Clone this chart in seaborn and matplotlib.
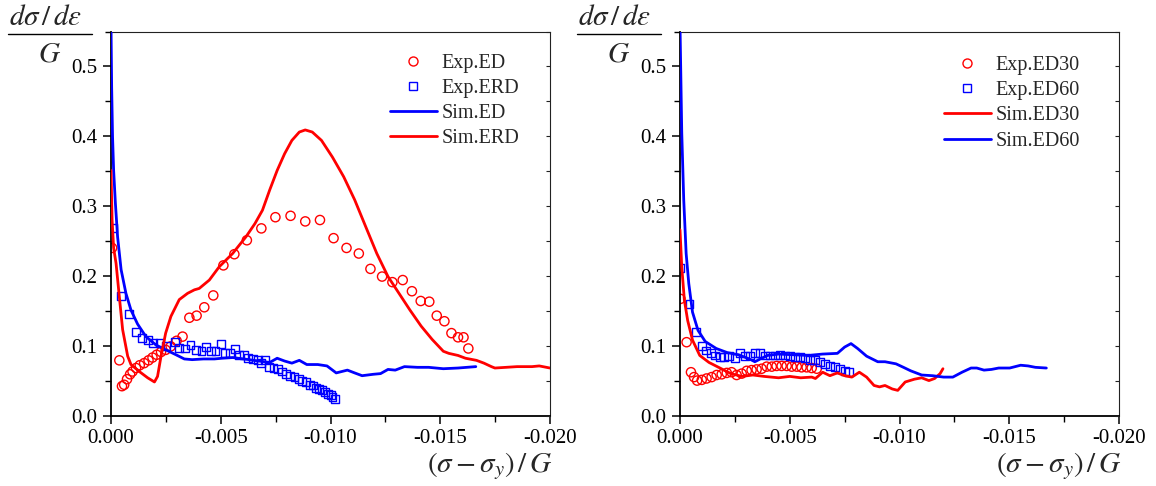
import matplotlib
matplotlib.use("Agg")
import matplotlib.pyplot as plt
from matplotlib.lines import Line2D
from matplotlib.ticker import MultipleLocator, FuncFormatter
import pandas as pd
import seaborn as sns

# ---------------- left panel: ED vs ERD ----------------
exp_ed_x = [-0.00005, -0.00038, -0.00050, -0.00060, -0.00073, -0.00087, -0.00098, -0.00114,
            -0.00131, -0.00151, -0.00171, -0.00189, -0.00208, -0.00228, -0.00249, -0.00272,
            -0.00299, -0.00326, -0.00357, -0.00390, -0.00425, -0.00466, -0.00512, -0.00562,
            -0.00619, -0.00685, -0.00749, -0.00818, -0.00885, -0.00952, -0.01014, -0.01073,
            -0.01129, -0.01182, -0.01235, -0.01282, -0.01329, -0.01371, -0.01411, -0.01450,
            -0.01484, -0.01519, -0.01551, -0.01581, -0.01606, -0.01628]
exp_ed_y = [0.240, 0.079, 0.042, 0.044, 0.052, 0.059, 0.063, 0.068, 0.072, 0.075, 0.079, 0.083,
            0.087, 0.091, 0.094, 0.099, 0.107, 0.113, 0.140, 0.143, 0.155, 0.172, 0.215, 0.231,
            0.251, 0.268, 0.284, 0.286, 0.278, 0.280, 0.254, 0.240, 0.232, 0.210, 0.199, 0.191,
            0.194, 0.178, 0.164, 0.163, 0.143, 0.135, 0.118, 0.112, 0.112, 0.096]

exp_erd_x = [-0.00008, -0.00047, -0.00082, -0.00114, -0.00140, -0.00168, -0.00193, -0.00222,
             -0.00252, -0.00293, -0.00311, -0.00336, -0.00362, -0.00387, -0.00412, -0.00434,
             -0.00454, -0.00476, -0.00500, -0.00521, -0.00543, -0.00564, -0.00585, -0.00606,
             -0.00626, -0.00648, -0.00668, -0.00685, -0.00703, -0.00720, -0.00740, -0.00760,
             -0.00779, -0.00799, -0.00816, -0.00836, -0.00855, -0.00871, -0.00888, -0.00905,
             -0.00922, -0.00935, -0.00949, -0.00962, -0.00976, -0.00989, -0.01001, -0.01009,
             -0.01019]
exp_erd_y = [0.268, 0.171, 0.145, 0.120, 0.111, 0.108, 0.104, 0.104, 0.099, 0.105, 0.097, 0.096,
             0.101, 0.094, 0.092, 0.098, 0.092, 0.092, 0.103, 0.090, 0.090, 0.095, 0.087, 0.087,
             0.082, 0.081, 0.079, 0.075, 0.080, 0.070, 0.068, 0.066, 0.063, 0.060, 0.057, 0.055,
             0.052, 0.049, 0.048, 0.044, 0.043, 0.040, 0.038, 0.036, 0.034, 0.031, 0.029, 0.027,
             0.024]

sim_ed_x = [0.0, -0.00003, -0.00007, -0.00012, -0.00020, -0.00030, -0.00046, -0.00068, -0.00091,
            -0.00121, -0.00159, -0.00205, -0.00250, -0.00296, -0.00334, -0.00370, -0.00421,
            -0.00471, -0.00505, -0.00555, -0.00606, -0.00673, -0.00723, -0.00757, -0.00791,
            -0.00824, -0.00858, -0.00892, -0.00942, -0.00984, -0.01026, -0.01077, -0.01110,
            -0.01144, -0.01194, -0.01228, -0.01262, -0.01295, -0.01337, -0.01396, -0.01447,
            -0.01514, -0.01581, -0.01662]
sim_ed_y = [0.56, 0.47, 0.40, 0.351, 0.304, 0.256, 0.209, 0.175, 0.151, 0.131, 0.113, 0.101,
            0.094, 0.087, 0.081, 0.080, 0.081, 0.081, 0.082, 0.083, 0.081, 0.078, 0.076, 0.082,
            0.078, 0.075, 0.079, 0.073, 0.073, 0.071, 0.061, 0.065, 0.061, 0.057, 0.059, 0.060,
            0.066, 0.065, 0.070, 0.069, 0.069, 0.067, 0.068, 0.070]

sim_erd_x = [0.0, -0.00005, -0.00012, -0.00023, -0.00038, -0.00053, -0.00076, -0.00091, -0.00129,
             -0.00167, -0.00198, -0.00212, -0.00228, -0.00249, -0.00273, -0.00311, -0.00349,
             -0.00380, -0.00402, -0.00448, -0.00493, -0.00554, -0.00615, -0.00656, -0.00690,
             -0.00723, -0.00757, -0.00791, -0.00824, -0.00858, -0.00885, -0.00917, -0.00959,
             -0.01009, -0.01060, -0.01110, -0.01161, -0.01211, -0.01262, -0.01312, -0.01362,
             -0.01413, -0.01463, -0.01514, -0.01539, -0.01581, -0.01615, -0.01665, -0.01699,
             -0.01733, -0.01749, -0.01800, -0.01850, -0.01918, -0.01951, -0.02000]
sim_erd_y = [0.351, 0.28, 0.24, 0.218, 0.170, 0.123, 0.085, 0.073, 0.063, 0.054, 0.048, 0.056,
             0.085, 0.118, 0.142, 0.166, 0.175, 0.180, 0.182, 0.194, 0.213, 0.232, 0.256, 0.275,
             0.294, 0.323, 0.351, 0.375, 0.394, 0.406, 0.409, 0.406, 0.394, 0.370, 0.342, 0.309,
             0.270, 0.232, 0.199, 0.175, 0.151, 0.128, 0.109, 0.092, 0.089, 0.086, 0.082, 0.079,
             0.075, 0.070, 0.068, 0.069, 0.070, 0.070, 0.071, 0.068]

# ---------------- right panel: ED30 vs ED60 ----------------
exp_ed30_x = [-0.00002, -0.00030, -0.00050, -0.00064, -0.00078, -0.00099, -0.00121, -0.00144,
              -0.00167, -0.00190, -0.00213, -0.00235, -0.00258, -0.00281, -0.00304, -0.00326,
              -0.00349, -0.00372, -0.00395, -0.00418, -0.00440, -0.00463, -0.00486, -0.00509,
              -0.00532, -0.00554, -0.00577, -0.00600, -0.00623]
exp_ed30_y = [0.167, 0.105, 0.062, 0.055, 0.050, 0.051, 0.053, 0.055, 0.058, 0.059, 0.061, 0.062,
              0.058, 0.060, 0.064, 0.065, 0.066, 0.067, 0.070, 0.070, 0.071, 0.071, 0.071, 0.070,
              0.070, 0.069, 0.069, 0.068, 0.067]

exp_ed60_x = [-0.00002, -0.00043, -0.00073, -0.00102, -0.00118, -0.00140, -0.00159, -0.00182,
              -0.00202, -0.00225, -0.00251, -0.00273, -0.00296, -0.00319, -0.00342, -0.00364,
              -0.00387, -0.00410, -0.00433, -0.00456, -0.00478, -0.00501, -0.00524, -0.00547,
              -0.00569, -0.00592, -0.00615, -0.00638, -0.00660, -0.00683, -0.00706, -0.00729,
              -0.00752, -0.00770]
exp_ed60_y = [0.211, 0.160, 0.119, 0.100, 0.093, 0.090, 0.086, 0.084, 0.084, 0.085, 0.082, 0.089,
              0.085, 0.086, 0.089, 0.090, 0.086, 0.086, 0.086, 0.087, 0.086, 0.085, 0.084, 0.084,
              0.082, 0.080, 0.079, 0.077, 0.074, 0.071, 0.069, 0.066, 0.064, 0.062]

sim_ed30_x = [0.0, -0.00008, -0.00020, -0.00035, -0.00057, -0.00090, -0.00132, -0.00182, -0.00232,
              -0.00282, -0.00332, -0.00383, -0.00449, -0.00500, -0.00550, -0.00600, -0.00617,
              -0.00650, -0.00683, -0.00717, -0.00750, -0.00783, -0.00817, -0.00850, -0.00884,
              -0.00909, -0.00934, -0.00967, -0.00992, -0.01026, -0.01068, -0.01101, -0.01134,
              -0.01160, -0.01185, -0.01198]
sim_ed30_y = [0.266, 0.213, 0.165, 0.136, 0.108, 0.086, 0.076, 0.068, 0.060, 0.056, 0.058, 0.056,
              0.054, 0.056, 0.054, 0.055, 0.053, 0.062, 0.057, 0.061, 0.057, 0.055, 0.062, 0.055,
              0.043, 0.041, 0.043, 0.038, 0.036, 0.048, 0.052, 0.054, 0.050, 0.053, 0.060, 0.067]

sim_ed60_x = [0.0, -0.00008, -0.00017, -0.00028, -0.00040, -0.00057, -0.00082, -0.00115, -0.00165,
              -0.00216, -0.00266, -0.00316, -0.00341, -0.00366, -0.00399, -0.00449, -0.00516,
              -0.00583, -0.00650, -0.00717, -0.00750, -0.00779, -0.00809, -0.00850, -0.00901,
              -0.00934, -0.00984, -0.01018, -0.01051, -0.01101, -0.01151, -0.01201, -0.01243,
              -0.01285, -0.01326, -0.01352, -0.01385, -0.01419, -0.01452, -0.01502, -0.01552,
              -0.01586, -0.01619, -0.01669]
sim_ed60_y = [0.56, 0.405, 0.309, 0.232, 0.189, 0.148, 0.122, 0.106, 0.096, 0.090, 0.087, 0.081,
              0.077, 0.081, 0.086, 0.088, 0.087, 0.086, 0.088, 0.089, 0.098, 0.103, 0.096, 0.085,
              0.077, 0.077, 0.074, 0.069, 0.064, 0.058, 0.057, 0.055, 0.055, 0.062, 0.068, 0.068,
              0.065, 0.066, 0.068, 0.068, 0.072, 0.071, 0.069, 0.068]

x_ticks = [0.000, -0.005, -0.010, -0.015, -0.020]
y_ticks = [0.0, 0.1, 0.2, 0.3, 0.4, 0.5]

RED = "#ff0000"
BLUE = "#0000ff"

sns.set_theme(style="ticks")
plt.rcParams["font.family"] = ["Liberation Serif", "DejaVu Serif"]
plt.rcParams["mathtext.fontset"] = "stix"
plt.rcParams["axes.unicode_minus"] = False

W, H = 1156, 486
fig = plt.figure(figsize=(W / 100, H / 100), dpi=100)
ax_l = fig.add_axes([111 / W, 70.5 / H, 439 / W, 384 / H])
ax_r = fig.add_axes([680 / W, 70.5 / H, 439 / W, 384 / H])


def fmt_x(v, _pos):
    if abs(v) < 1e-12:
        return "0.000"
    return f"{v:.3f}"


def style_axes(ax):
    ax.set_xlim(0, -0.020)
    ax.set_ylim(0, 0.55)
    ax.set_xticks(x_ticks)
    ax.set_yticks(y_ticks)
    ax.xaxis.set_minor_locator(MultipleLocator(0.0025))
    ax.yaxis.set_minor_locator(MultipleLocator(0.05))
    ax.xaxis.set_major_formatter(FuncFormatter(fmt_x))
    ax.yaxis.set_major_formatter(FuncFormatter(lambda v, p: f"{v:.1f}"))
    ax.set_xlabel("")
    ax.set_ylabel("")
    ax.tick_params(which="major", direction="out", length=6, width=1.1, labelsize=15,
                   pad=4, colors="black")
    ax.tick_params(which="minor", direction="out", length=4, width=1.0, colors="black")
    for side in ("left", "bottom"):
        ax.spines[side].set_linewidth(1.3)
        ax.spines[side].set_color("black")
    for side in ("top", "right"):
        ax.spines[side].set_visible(True)
        ax.spines[side].set_linewidth(0.8)
        ax.spines[side].set_color("#222222")
    # small inward ticks along the right frame
    tw = ax.twinx()
    tw.set_ylim(0, 0.55)
    tw.set_yticks(y_ticks)
    tw.yaxis.set_minor_locator(MultipleLocator(0.05))
    tw.tick_params(which="both", direction="in", length=3, width=0.8, labelright=False,
                   colors="#222222")
    for s in tw.spines.values():
        s.set_visible(False)
    # x label at the lower right
    ax.text(1.006, -0.148, r"$(\sigma-\sigma_y)\,/\,G$", transform=ax.transAxes,
            ha="right", va="baseline", fontsize=21)


def draw_points(ax, x, y, marker, color, size):
    df = pd.DataFrame({"x": x, "y": y})
    sns.scatterplot(data=df, x="x", y="y", ax=ax, marker=marker, s=size,
                    facecolor="none", edgecolor=color, linewidth=1.0, legend=False, zorder=2)


def draw_line(ax, x, y, color):
    df = pd.DataFrame({"x": x, "y": y})
    sns.lineplot(data=df, x="x", y="y", ax=ax, color=color, linewidth=2.0, sort=False,
                 estimator=None, legend=False, zorder=3)


def legend_handles(entries):
    handles = []
    for kind, color, label in entries:
        if kind == "o":
            handles.append(Line2D([], [], linestyle="none", marker="o", markersize=6.5,
                                  markerfacecolor="none", markeredgecolor=color,
                                  markeredgewidth=1.0, label=label))
        elif kind == "s":
            handles.append(Line2D([], [], linestyle="none", marker="s", markersize=5.5,
                                  markerfacecolor="none", markeredgecolor=color,
                                  markeredgewidth=1.0, label=label))
        else:
            handles.append(Line2D([], [], color=color, linewidth=2.0, label=label))
    return handles


LEG_KW = dict(loc="center left", frameon=False, fontsize=14.5, handlelength=2.3,
              handletextpad=0.25, labelspacing=0.3, borderpad=0, borderaxespad=0)

# left panel
draw_points(ax_l, exp_ed_x, exp_ed_y, "o", RED, 44)
draw_points(ax_l, exp_erd_x, exp_erd_y, "s", BLUE, 32)
draw_line(ax_l, sim_ed_x, sim_ed_y, BLUE)
draw_line(ax_l, sim_erd_x, sim_erd_y, RED)
style_axes(ax_l)
ax_l.legend(handles=legend_handles([("o", RED, "Exp.ED"), ("s", BLUE, "Exp.ERD"),
                                    ("-", BLUE, "Sim.ED"), ("-", RED, "Sim.ERD")]),
            bbox_to_anchor=(0.636, 0.819), **LEG_KW)

# right panel
draw_points(ax_r, exp_ed30_x, exp_ed30_y, "o", RED, 44)
draw_points(ax_r, exp_ed60_x, exp_ed60_y, "s", BLUE, 32)
draw_line(ax_r, sim_ed30_x, sim_ed30_y, RED)
draw_line(ax_r, sim_ed60_x, sim_ed60_y, BLUE)
style_axes(ax_r)
ax_r.legend(handles=legend_handles([("o", RED, "Exp.ED30"), ("s", BLUE, "Exp.ED60"),
                                    ("-", RED, "Sim.ED30"), ("-", BLUE, "Sim.ED60")]),
            bbox_to_anchor=(0.602, 0.813), **LEG_KW)

# stacked fraction d(sigma)/d(epsilon) over G above each y axis
for dx in (0, 569):
    fig.text((46 + dx) / W, 1 - 18 / H, r"$d\sigma\,/\,d\varepsilon$", ha="center",
             va="center", fontsize=21)
    fig.text((50 + dx) / W, 1 - 55 / H, r"$G$", ha="center", va="center", fontsize=21)
    fig.add_artist(Line2D([(8 + dx) / W, (92 + dx) / W], [1 - 34.5 / H, 1 - 34.5 / H],
                          color="black", linewidth=1.0, transform=fig.transFigure))

fig.savefig("out.png", dpi=100)
